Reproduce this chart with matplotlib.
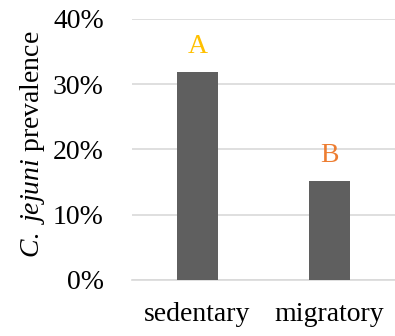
import matplotlib
matplotlib.use('Agg')
import matplotlib.pyplot as plt
import numpy as np

plt.rcParams['font.family'] = 'Liberation Serif'
plt.rcParams['mathtext.fontset'] = 'custom'
plt.rcParams['mathtext.rm'] = 'Liberation Serif'
plt.rcParams['mathtext.it'] = 'Liberation Serif:italic'

# data
categories = ['sedentary', 'migratory']
prevalence = [31.8, 15.1]
letters = ['A', 'B']
letter_colors = ['#FFC000', '#ED7D31']
yticks = [0, 10, 20, 30, 40]

fig = plt.figure(figsize=(3.95, 3.36), dpi=100)
ax = fig.add_axes([0.333, 0.1667, 0.667, 0.7768])

x = np.arange(len(categories))
ax.bar(x, prevalence, width=0.31, color='#5f5f5f', zorder=3)

# significance letters above bars
for xi, v, lab, c in zip(x, prevalence, letters, letter_colors):
    ax.annotate(lab, (xi, v), xytext=(0, 10), textcoords='offset points',
                ha='center', va='bottom', fontsize=20, color=c)

ax.set_xlim(-0.5, 1.5)
ax.set_ylim(0, 40)
ax.set_yticks(yticks)
ax.set_yticklabels([str(t) + '%' for t in yticks], fontsize=20)
ax.set_xticks(x)
ax.set_xticklabels(categories, fontsize=20)
ax.tick_params(axis='y', length=0, pad=20)
ax.tick_params(axis='x', length=0, pad=16)

ax.grid(axis='y', color='#d9d9d9', linewidth=1.2, zorder=0)
for s in ['top', 'right', 'left']:
    ax.spines[s].set_visible(False)
ax.spines['bottom'].set_color('#d9d9d9')
ax.spines['bottom'].set_linewidth(1.2)

ax.set_ylabel(r'$C.\ jejuni$ prevalence', fontsize=20)
ax.yaxis.set_label_coords(-0.32, 0.52)

fig.savefig('out.png', dpi=100)
